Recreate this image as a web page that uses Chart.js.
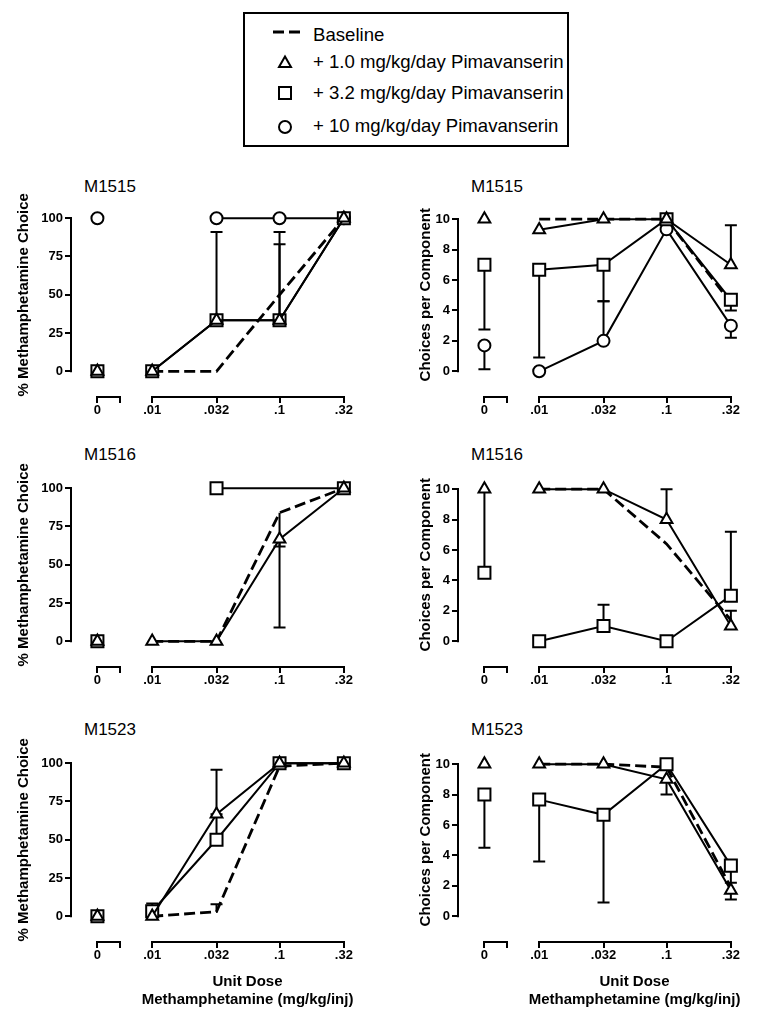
<!DOCTYPE html>
<html>
<head>
<meta charset="utf-8">
<script src="https://cdn.jsdelivr.net/npm/chart.js@4.4.1/dist/chart.umd.min.js"></script>
<style>
  body { margin: 0; width: 757px; height: 1017px; position: relative; background: #fff; overflow: hidden;
         font-family: "Liberation Sans", Arial, sans-serif; color: #000; }
  canvas { position: absolute; }
  .tag { position: absolute; font-size: 17px; line-height: 17px; }
  #legend { position: absolute; left: 243px; top: 12px; width: 322px; height: 131px; border: 2px solid #000; }
  #legend span { position: absolute; left: 68px; font-size: 18.6px; line-height: 19px; white-space: nowrap; }
</style>
</head>
<body>

<div id="legend">
  <svg width="60" height="131" style="position:absolute;left:0;top:0">
    <line x1="28" y1="18" x2="55" y2="18" stroke="#000" stroke-width="3" stroke-dasharray="11 5"/>
    <polygon points="40,42.5 46,53 34,53" fill="#fff" stroke="#000" stroke-width="2"/>
    <rect x="34" y="73" width="12" height="12" fill="#fff" stroke="#000" stroke-width="2"/>
    <circle cx="40" cy="113" r="6" fill="#fff" stroke="#000" stroke-width="2"/>
  </svg>
  <span style="top:10.5px">Baseline</span>
  <span style="top:37.5px">+ 1.0 mg/kg/day Pimavanserin</span>
  <span style="top:68.5px">+ 3.2 mg/kg/day Pimavanserin</span>
  <span style="top:101.5px">+ 10 mg/kg/day Pimavanserin</span>
</div>

<div class="tag" style="left:84px;top:178px">M1515</div>
<div class="tag" style="left:471px;top:178px">M1515</div>
<div class="tag" style="left:84px;top:446px">M1516</div>
<div class="tag" style="left:471px;top:446px">M1516</div>
<div class="tag" style="left:84px;top:721px">M1523</div>
<div class="tag" style="left:471px;top:721px">M1523</div>

<canvas id="p1" width="370" height="237" style="left:0;top:183px"></canvas>
<canvas id="p2" width="370" height="237" style="left:387px;top:183px"></canvas>
<canvas id="p3" width="370" height="237" style="left:0;top:453px"></canvas>
<canvas id="p4" width="370" height="237" style="left:387px;top:453px"></canvas>
<canvas id="p5" width="370" height="285" style="left:0;top:728px"></canvas>
<canvas id="p6" width="370" height="285" style="left:387px;top:728px"></canvas>

<script>
// x axis: vehicle point on its own short axis, then the log dose axis
const ctrlTicks = [0, 1]
const ctrlLabels = ['0', '']
const doseTicks = [0.01, 0.032, 0.1, 0.32]
const doseLabels = ['.01', '.032', '.1', '.32']
const pctTicks = [0, 25, 50, 75, 100]
const choiceTicks = [0, 2, 4, 6, 8, 10]

// every series: [vehicle (0), .01, .032, .1, .32]   null = no point
// *Err arrays hold the end of the SEM bar
const m1515PctBase = [null, 0, 0, 50, 100]
const m1515PctTri  = [0, 0, 33.3, 33.3, 100]
const m1515PctSq   = [0, 0, 33.3, 33.3, 100]
const m1515PctCirc = [100, null, 100, 100, 100]
const m1515PctTriErr = [null, null, null, 83, null]
const m1515PctSqErr  = [null, null, 91, 91, null]

const m1515ChBase = [null, 10, 10, 10, 4.5]
const m1515ChTri  = [10, 9.3, 10, 10, 7]
const m1515ChSq   = [7, 6.67, 7, 10, 4.7]
const m1515ChCirc = [1.7, 0, 2, 9.33, 3]
const m1515ChTriErr  = [null, null, null, null, 9.6]
const m1515ChSqErr   = [2.75, 0.9, 4.6, null, 4.0]
const m1515ChCircErr = [0.13, null, 4.6, null, 2.2]

const m1516PctBase = [null, 0, 0, 84, 100]
const m1516PctTri  = [0, 0, 0, 66.7, 100]
const m1516PctSq   = [0, null, 100, null, 100]
const m1516PctBaseErr = [null, null, null, 62, null]
const m1516PctTriErr  = [null, null, null, 9, null]

const m1516ChBase = [null, 10, 10, 6.4, 1.4]
const m1516ChTri  = [10, 10, 10, 8, 1]
const m1516ChSq   = [4.5, 0, 1, 0, 3]
const m1516ChTriErr = [4.5, null, null, 10, 2]
const m1516ChSqErr  = [null, null, 2.4, null, 7.2]

const m1523PctBase = [null, 0, 3, 98, 100]
const m1523PctTri  = [0, 0, 66.7, 100, 100]
const m1523PctSq   = [0, 3.3, 50, 100, 100]
const m1523PctBaseErr = [null, null, 7.9, null, null]
const m1523PctTriErr  = [null, null, 95.8, null, null]
const m1523PctSqErr   = [null, 8.3, 66.7, null, null]

const m1523ChBase = [null, 10, 10, 9.8, 1.9]
const m1523ChTri  = [10, 10, 10, 9, 1.7]
const m1523ChSq   = [8, 7.67, 6.67, 10, 3.33]
const m1523ChTriErr = [null, null, null, 8, 1.1]
const m1523ChSqErr  = [4.5, 3.6, 0.9, null, 2.2]


Chart.defaults.font.family = '"Liberation Sans", Arial, sans-serif'
Chart.defaults.color = '#000'

const styleBase = { borderColor: '#000', borderWidth: 2.8, borderDash: [11, 5], pointRadius: 0 }
const styleTri  = { pointStyle: 'triangle', pointRadius: 6.8 }
const styleSq   = { pointStyle: 'rect', pointRadius: 8.5 }
const styleCirc = { pointStyle: 'circle', pointRadius: 6 }
const markerStyle = { borderColor: '#000', borderWidth: 2, pointBorderColor: '#000',
                      pointBackgroundColor: '#fff', pointBorderWidth: 2 }

function seriesSets(vals, errs, style, order) {
    if (!vals) return []
    errs = errs || []
    let common = Object.assign({}, markerStyle, style, { order: order, spanGaps: true, clip: false, fill: false })
    return [
        Object.assign({}, common, {
            xAxisID: 'x',
            data: doseTicks.map((d, i) => ({ x: d, y: vals[i + 1] })),
            errEnd: errs.slice(1)
        }),
        Object.assign({}, common, {
            xAxisID: 'x0',
            data: [{ x: ctrlTicks[0], y: vals[0] }],
            errEnd: errs.slice(0, 1)
        })
    ]
}

// one-sided SEM bars, drawn under the markers
const errorBars = {
    id: 'errorBars',
    beforeDatasetsDraw(chart) {
        const ctx = chart.ctx
        const y = chart.scales.y
        ctx.save()
        ctx.strokeStyle = '#000'
        ctx.lineWidth = 2
        chart.data.datasets.forEach(ds => {
            if (!ds.errEnd) return
            const xs = chart.scales[ds.xAxisID]
            ds.data.forEach((p, j) => {
                const e = ds.errEnd[j]
                if (e == null || p.y == null) return
                const px = xs.getPixelForValue(p.x)
                const y0 = y.getPixelForValue(p.y)
                const y1 = y.getPixelForValue(e)
                ctx.beginPath()
                ctx.moveTo(px, y0)
                ctx.lineTo(px, y1)
                ctx.moveTo(px - 6, y1)
                ctx.lineTo(px + 6, y1)
                ctx.stroke()
            })
        })
        ctx.restore()
    }
}

// Prism style detached axes
const axisLines = {
    id: 'axisLines',
    afterDraw(chart) {
        const { ctx, chartArea, scales } = chart
        const y = scales.y, x = scales.x, x0 = scales.x0
        const yt = y.ticks
        ctx.save()
        ctx.strokeStyle = '#000'
        ctx.lineWidth = 2
        ctx.beginPath()
        const lx = chartArea.left - 1
        ctx.moveTo(lx, y.getPixelForValue(yt[0].value) + 1)
        ctx.lineTo(lx, y.getPixelForValue(yt[yt.length - 1].value) - 1)
        const by = chartArea.bottom + 1
        ctx.moveTo(x0.getPixelForValue(ctrlTicks[0]) - 1, by)
        ctx.lineTo(x0.getPixelForValue(ctrlTicks[1]) + 1, by)
        ctx.moveTo(x.getPixelForValue(doseTicks[0]) - 1, by)
        ctx.lineTo(x.getPixelForValue(doseTicks[doseTicks.length - 1]) + 1, by)
        ctx.stroke()
        ctx.restore()
    }
}

const tickFont = { size: 13, weight: 'bold' }
const titleFont = { size: 15, weight: 'bold' }
const tickGrid = { display: true, drawOnChartArea: false, drawTicks: true, tickLength: 7, color: '#000', lineWidth: 2 }

function makePanel(p) {
    const pct = p.kind == 'pct'
    const xHeight = p.bottom ? 72 : 24

    let datasets = []
        .concat(seriesSets(p.tri, p.triErr, styleTri, 1))
        .concat(seriesSets(p.sq, p.sqErr, styleSq, 2))
        .concat(seriesSets(p.circ, p.circErr, styleCirc, 3))
        .concat(seriesSets(p.base, p.baseErr, styleBase, 4))

    new Chart(document.getElementById(p.id), {
        type: 'line',
        data: { datasets: datasets },
        plugins: [errorBars, axisLines],
        options: {
            responsive: false,
            animation: false,
            devicePixelRatio: 1,
            layout: { padding: { left: 0, right: 4, top: 0, bottom: 0 } },
            plugins: { legend: { display: false }, tooltip: { enabled: false }, title: { display: false } },
            scales: {
                x0: {
                    type: 'linear', position: 'bottom', stack: 'dose', stackWeight: 65,
                    min: -1.1304, max: 1.6957, bounds: 'data',
                    afterBuildTicks: s => { s.ticks = ctrlTicks.map(v => ({ value: v })) },
                    afterFit: s => { s.height = xHeight; s.paddingLeft = 0; s.paddingRight = 0 },
                    ticks: { callback: (v, i) => ctrlLabels[i], font: tickFont, padding: 0, autoSkip: false, maxRotation: 0 },
                    grid: tickGrid,
                    border: { display: false }
                },
                x: {
                    type: 'logarithmic', position: 'bottom', stack: 'dose', stackWeight: 229,
                    min: 0.007403, max: 0.42454, bounds: 'data',
                    afterBuildTicks: s => { s.ticks = doseTicks.map(v => ({ value: v })) },
                    afterFit: s => { s.height = xHeight; s.paddingLeft = 0; s.paddingRight = 0 },
                    ticks: { callback: (v, i) => doseLabels[i], font: tickFont, padding: 0, autoSkip: false, maxRotation: 0 },
                    grid: tickGrid,
                    border: { display: false },
                    title: {
                        display: !!p.bottom,
                        text: ['Unit Dose', 'Methamphetamine (mg/kg/inj)'],
                        font: titleFont,
                        padding: { top: 0, bottom: 4 }
                    }
                },
                y: {
                    type: 'linear', position: 'left',
                    min: pct ? -16.15 : -1.625,
                    max: pct ? 116.15 : 11.6875,
                    afterBuildTicks: s => { s.ticks = (pct ? pctTicks : choiceTicks).map(v => ({ value: v })) },
                    afterFit: s => { s.width = 72; s.paddingTop = 0; s.paddingBottom = 0 },
                    ticks: { font: tickFont, padding: 2 },
                    grid: tickGrid,
                    border: { display: false },
                    title: {
                        display: true,
                        text: pct ? '% Methamphetamine Choice' : 'Choices per Component',
                        font: titleFont,
                        padding: { top: pct ? 14.5 : 30, bottom: 0 }
                    }
                }
            }
        }
    })
}

const panels = [
    { id: 'p1', kind: 'pct', base: m1515PctBase, tri: m1515PctTri, triErr: m1515PctTriErr,
      sq: m1515PctSq, sqErr: m1515PctSqErr, circ: m1515PctCirc },
    { id: 'p2', kind: 'ch', base: m1515ChBase, tri: m1515ChTri, triErr: m1515ChTriErr,
      sq: m1515ChSq, sqErr: m1515ChSqErr, circ: m1515ChCirc, circErr: m1515ChCircErr },
    { id: 'p3', kind: 'pct', base: m1516PctBase, baseErr: m1516PctBaseErr, tri: m1516PctTri, triErr: m1516PctTriErr,
      sq: m1516PctSq },
    { id: 'p4', kind: 'ch', base: m1516ChBase, tri: m1516ChTri, triErr: m1516ChTriErr,
      sq: m1516ChSq, sqErr: m1516ChSqErr },
    { id: 'p5', kind: 'pct', bottom: true, base: m1523PctBase, baseErr: m1523PctBaseErr, tri: m1523PctTri, triErr: m1523PctTriErr,
      sq: m1523PctSq, sqErr: m1523PctSqErr },
    { id: 'p6', kind: 'ch', bottom: true, base: m1523ChBase, tri: m1523ChTri, triErr: m1523ChTriErr,
      sq: m1523ChSq, sqErr: m1523ChSqErr }
]

panels.forEach(makePanel)
</script>
</body>
</html>
